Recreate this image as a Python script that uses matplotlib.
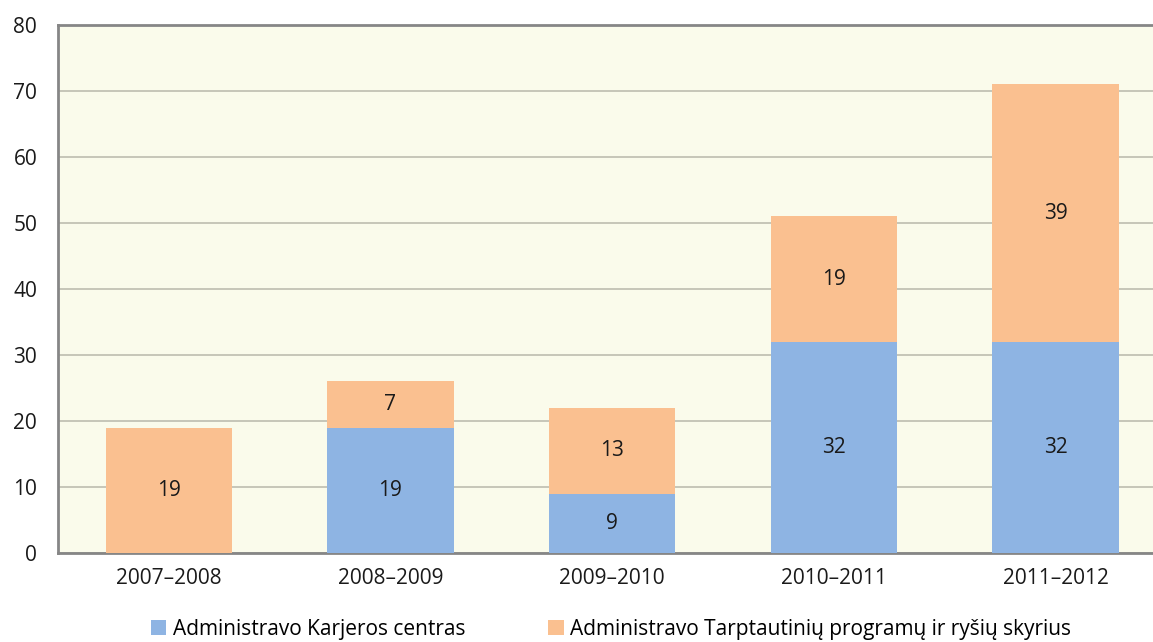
import matplotlib
matplotlib.use("Agg")
import matplotlib.pyplot as plt
import numpy as np

plt.rcParams['font.family'] = ['Open Sans', 'DejaVu Sans']

years = ["2007–2008", "2008–2009", "2009–2010", "2010–2011", "2011–2012"]
career_centre = [0, 19, 9, 32, 32]
intl_office = [19, 7, 13, 19, 39]
series_names = ["Administravo Karjeros centras",
                "Administravo Tarptautinių programų ir ryšių skyrius"]

blue = "#8EB4E3"
orange = "#FAC090"
fs = 15

fig = plt.figure(figsize=(11.53, 6.42), dpi=100)
ax = fig.add_axes([58 / 1153, 1 - 553 / 642, (1153 - 58) / 1153, (553 - 25) / 642])
ax.set_facecolor("#FAFBEB")

x = np.arange(len(years))
w = 0.57
b1 = ax.bar(x, career_centre, w, color=blue, label=series_names[0], zorder=3)
b2 = ax.bar(x, intl_office, w, bottom=career_centre, color=orange, label=series_names[1], zorder=3)

for xi, a, b in zip(x, career_centre, intl_office):
    if a > 0:
        ax.text(xi, a / 2, str(a), ha="center", va="center", fontsize=fs, color="#1a1a1a", zorder=4)
    if b > 0:
        ax.text(xi, a + b / 2, str(b), ha="center", va="center", fontsize=fs, color="#1a1a1a", zorder=4)

ax.set_ylim(0, 80)
ax.set_xlim(-0.5, 4.44)
ax.set_yticks(range(0, 81, 10))
ax.set_xticks(x)
ax.set_xticklabels(years)
ax.tick_params(axis="both", length=0, labelsize=fs, colors="#1a1a1a")
ax.tick_params(axis="y", pad=15)
ax.tick_params(axis="x", pad=11)
ax.yaxis.grid(True, color="#BDBDAF", linewidth=1.2, zorder=0)
ax.set_axisbelow(True)

for s in ["top", "left", "bottom"]:
    ax.spines[s].set_color("#868686")
    ax.spines[s].set_linewidth(2)
ax.spines["right"].set_visible(False)

fig.legend(handles=[b1, b2], loc="center", bbox_to_anchor=(611 / 1153, 1 - 629 / 642),
           ncol=2, frameon=False, fontsize=fs, handlelength=0.75, handleheight=0.75,
           handletextpad=0.3, columnspacing=4.0)

fig.savefig("out.png", dpi=100)
